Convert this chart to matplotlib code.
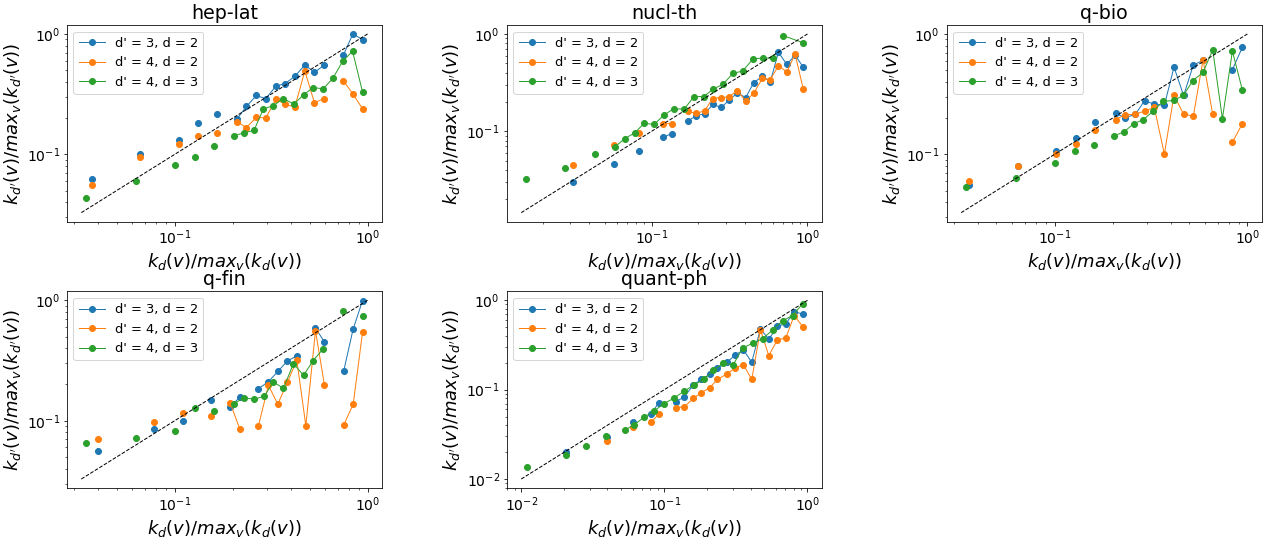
import numpy as np
import matplotlib
matplotlib.use("Agg")
from matplotlib import pyplot as plt

nan = np.nan

titles = ['hep-lat', 'nucl-th', 'q-bio', 'q-fin', 'quant-ph']
labels = ["d' = 3, d = 2", "d' = 4, d = 2", "d' = 4, d = 3"]

# hep-lat
hep_lat_x_d2 = [0.0371, nan, 0.0661, nan, 0.1053, nan, 0.1327, nan, 0.1665, nan, 0.2098, 0.2355, 0.2653, 0.2967,
                0.3343, 0.3738, 0.4196, 0.4729, 0.5307, 0.5934, nan, 0.7474, 0.8392, 0.9419]
hep_lat_y_32 = [0.0626, nan, 0.1006, nan, 0.1313, nan, 0.1813, nan, 0.2163, nan, 0.1955, 0.2502, 0.3083, 0.2896,
                0.368, 0.387, 0.445, 0.552, 0.480, 0.548, nan, 0.663, 1.0, 0.898]
hep_lat_y_42 = [0.0562, nan, 0.0945, nan, 0.123, nan, 0.1416, nan, 0.150, nan, 0.187, 0.167, 0.203, 0.2005,
                0.2858, 0.2616, 0.247, 0.492, 0.268, 0.291, nan, 0.410, 0.318, 0.239]
hep_lat_x_d3 = [0.0349, nan, 0.0630, nan, 0.1, nan, 0.127, nan, 0.160, nan, 0.203, 0.230, 0.258, 0.2885,
                0.325, 0.365, 0.415, 0.4655, 0.522, 0.589, 0.661, 0.742, 0.836, 0.942]
hep_lat_y_43 = [0.0431, nan, 0.0599, nan, 0.0812, nan, 0.0945, nan, 0.117, nan, 0.1434, 0.151, 0.1587, 0.239,
                0.2535, 0.291, 0.2616, 0.312, 0.359, 0.350, 0.4285, 0.591, 0.720, 0.3284]
hep_lat_diag = [0.0328, 1.0]

# nucl-th
nucl_th_x_d2 = [0.0313, nan, 0.0573, nan, 0.0829, nan, 0.1189, 0.1344, nan, 0.172, 0.1936, 0.219, 0.2465,
                0.2803, 0.314, 0.355, 0.4017, 0.452, 0.514, 0.578, 0.651, 0.7366, 0.833, 0.938]
nucl_th_y_32 = [0.0302, nan, 0.0464, nan, 0.063, nan, 0.0868, 0.0947, nan, 0.1285, 0.1445, 0.1514, 0.1886,
                0.1758, 0.2088, 0.248, 0.2223, 0.316, 0.367, 0.3237, 0.650, 0.486, 0.606, 0.457]
nucl_th_y_42 = [0.0453, nan, 0.0731, nan, 0.0954, nan, 0.1198, 0.1198, nan, 0.160, 0.1527, 0.1625, 0.2172,
                0.2223, 0.226, 0.262, 0.2056, 0.246, 0.350, 0.3393, 0.4716, 0.409, 0.620, 0.2747]
nucl_th_x_d3 = [0.01574, nan, 0.0280, nan, 0.0437, nan, 0.0579, 0.0674, 0.0778, 0.0897, 0.104, 0.120, 0.1385,
                0.162, 0.187, 0.216, 0.249, 0.287, 0.333, 0.384, 0.448, 0.517, 0.599, nan, 0.698, 0.929]
nucl_th_y_43 = [0.0326, nan, 0.0422, nan, 0.0582, nan, 0.0687, 0.0842, 0.0962, 0.1207, 0.1178, 0.1468, 0.1703,
                0.169, 0.2276, 0.2276, 0.272, 0.304, 0.394, 0.416, 0.556, 0.565, 0.565, nan, 0.962, 0.816]
nucl_th_diag = [0.0146, 1.0]

# q-bio
q_bio_x_d2 = [0.0359, nan, 0.0643, nan, 0.102, nan, 0.1285, nan, 0.162, nan, 0.2073, 0.2327, 0.2623, 0.293,
              0.329, 0.371, 0.4163, 0.467, 0.5245, 0.589, 0.661, nan, 0.836, 0.942]
q_bio_y_32 = [0.0555, nan, 0.0806, nan, 0.1059, nan, 0.1372, nan, 0.1847, nan, 0.219, 0.2018, 0.215, 0.2786,
              0.2616, 0.255, 0.531, 0.3083, 0.552, 0.603, nan, nan, 0.505, 0.776]
q_bio_y_42 = [0.0603, nan, 0.0806, nan, 0.1006, nan, 0.1225, nan, 0.1587, nan, 0.1943, 0.2137, 0.215, 0.229,
              0.2455, 0.1006, 0.310, 0.215, 0.2083, 0.610, 0.215, nan, 0.1264, 0.180]
q_bio_x_d3 = [0.0349, nan, 0.0630, nan, 0.1, nan, 0.127, nan, 0.160, nan, 0.203, 0.230, 0.258, 0.2885,
              0.325, 0.365, 0.415, 0.4655, 0.522, 0.589, 0.661, 0.742, 0.836, 0.942]
q_bio_y_43 = [0.0535, nan, 0.0638, nan, 0.0854, nan, 0.1072, nan, 0.1194, nan, 0.1416, 0.1547, 0.180, 0.1943,
              0.229, 0.2752, 0.2805, 0.3083, 0.410, 0.480, 0.738, 0.198, 0.720, 0.341]
q_bio_diag = [0.0328, 1.0]

# q-fin
q_fin_x_d2 = [0.0398, nan, 0.0784, nan, 0.110, nan, 0.155, nan, 0.1937, 0.2175, nan, 0.2718, 0.3063, 0.3424,
              0.3844, 0.4297, 0.4786, 0.537, 0.598, nan, 0.751, 0.8425, 0.942]
q_fin_y_32 = [0.0559, nan, 0.0848, nan, 0.1, nan, 0.148, nan, 0.1297, 0.1567, nan, 0.1847, 0.211, 0.2566,
              0.314, 0.3454, nan, 0.5877, 0.4505, nan, 0.2566, 0.580, 0.994]
q_fin_y_42 = [0.0711, nan, 0.0975, nan, 0.117, nan, 0.109, nan, 0.1416, 0.0854, nan, 0.091, 0.1968, 0.1372,
              0.2096, 0.318, 0.091, 0.559, 0.1968, nan, 0.0915, 0.1372, 0.545]
q_fin_x_d3 = [0.0349, nan, 0.0630, nan, 0.1, nan, 0.127, nan, 0.160, nan, 0.203, 0.229, 0.258, 0.291, 0.325,
              0.3664, 0.413, 0.4655, 0.522, 0.586, nan, 0.742, nan, 0.942]
q_fin_y_43 = [0.0655, nan, 0.0715, nan, 0.0822, nan, 0.1264, nan, 0.121, nan, 0.139, 0.1547, 0.151, 0.1597,
              0.2096, 0.186, 0.2987, 0.2378, 0.316, 0.392, nan, 0.811, nan, 0.743]
q_fin_diag = [0.0328, 1.0]

# quant-ph
quant_ph_x_d2 = [0.0204, nan, 0.0399, nan, 0.0607, nan, 0.0802, 0.0918, nan, 0.120, 0.138, 0.1595, 0.1815,
                 0.2075, 0.235, 0.274, 0.3136, 0.3567, 0.408, 0.469, 0.5366, 0.617, 0.7056, 0.807, 0.933]
quant_ph_y_32 = [0.020, nan, 0.0298, nan, 0.043, nan, 0.0532, 0.0717, nan, 0.0736, 0.0829, 0.1137, 0.130,
                 0.148, 0.174, 0.203, 0.245, 0.278, 0.203, 0.480, 0.3656, 0.514, 0.546, 0.748, 0.699]
quant_ph_y_42 = [nan, nan, 0.0269, nan, 0.0378, nan, 0.043, 0.0532, nan, 0.0631, 0.0642, 0.0801, 0.0926,
                 0.1052, 0.130, 0.1506, 0.1755, 0.191, 0.130, 0.468, 0.2407, 0.3624, 0.3784, 0.676, 0.501]
quant_ph_x_d3 = [0.0109, nan, 0.0204, nan, 0.0282, nan, 0.0389, nan, 0.0531, 0.0614, 0.0725, 0.0851, 0.0995,
                 0.1162, 0.138, 0.1612, 0.1884, 0.220, 0.257, 0.302, 0.353, 0.417, 0.487, 0.572, 0.669, 0.786,
                 0.923]
quant_ph_y_43 = [0.0138, nan, 0.0186, nan, 0.0233, nan, 0.0306, nan, 0.0353, 0.0405, 0.0493, 0.058, 0.0699,
                 0.0801, 0.0966, 0.1127, 0.130, 0.164, 0.198, 0.1896, 0.293, 0.3328, 0.372, 0.468, 0.589, 0.676,
                 0.911]
quant_ph_diag = [0.01, 1.0]

panels = [
    (hep_lat_x_d2, hep_lat_y_32, hep_lat_y_42, hep_lat_x_d3, hep_lat_y_43, hep_lat_diag),
    (nucl_th_x_d2, nucl_th_y_32, nucl_th_y_42, nucl_th_x_d3, nucl_th_y_43, nucl_th_diag),
    (q_bio_x_d2, q_bio_y_32, q_bio_y_42, q_bio_x_d3, q_bio_y_43, q_bio_diag),
    (q_fin_x_d2, q_fin_y_32, q_fin_y_42, q_fin_x_d3, q_fin_y_43, q_fin_diag),
    (quant_ph_x_d2, quant_ph_y_32, quant_ph_y_42, quant_ph_x_d3, quant_ph_y_43, quant_ph_diag),
]

# 72 dpi -> one point is one pixel
fig, axes = plt.subplots(2, 3, figsize=(1271 / 72, 538 / 72), dpi=72)
fig.subplots_adjust(left=0.0527, right=0.9927, bottom=0.093, top=0.9535, wspace=0.397, hspace=0.355)
axes = axes.flatten()

for ax, title, (x2, y32, y42, x3, y43, diag) in zip(axes, titles, panels):
    ax.plot(x2, y32, '-o', color='C0', lw=1, ms=6, label=labels[0])
    ax.plot(x2, y42, '-o', color='C1', lw=1, ms=6, label=labels[1])
    ax.plot(x3, y43, '-o', color='C2', lw=1, ms=6, label=labels[2])
    ax.plot(diag, diag, 'k--', lw=1)
    ax.set_xscale('log')
    ax.set_yscale('log')
    ax.set_title(title, fontsize=19)
    ax.set_xlabel(r'$k_d(v)/max_v(k_d(v))$', fontsize=18)
    ax.set_ylabel(r"$k_{d'}(v)/max_v(k_{d'}(v))$", fontsize=18)
    ax.tick_params(labelsize=14)
    ax.legend(loc='upper left', fontsize=13)

axes[5].remove()

plt.savefig('out.png', dpi=72)
